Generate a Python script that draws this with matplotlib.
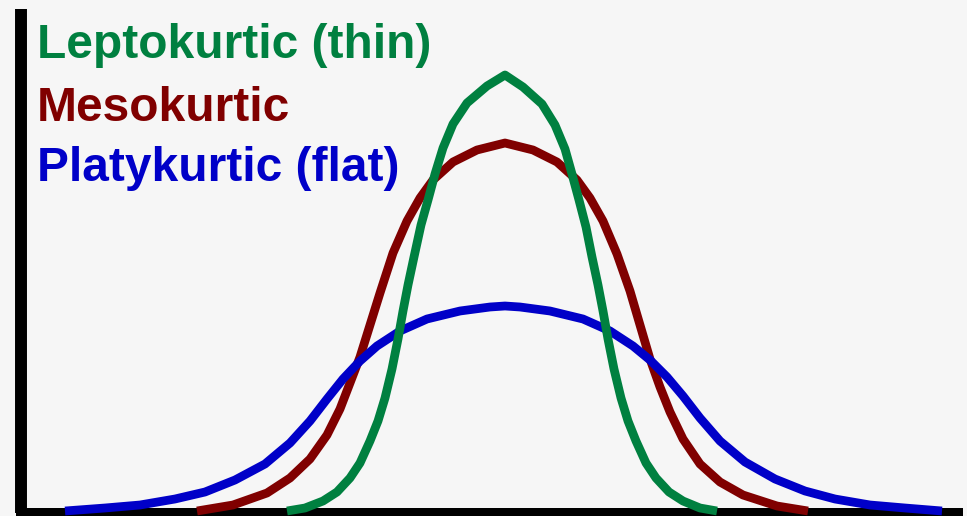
import matplotlib
matplotlib.use("Agg")
import matplotlib.pyplot as plt

# Posiciones horizontales (px respecto al centro) y alturas (px sobre la base)
lepto_x = [-218, -200, -182, -168, -155, -145, -135, -127, -120, -113, -107, -102, -97, -91, -84,
           -77, -70, -62, -52, -38, -18, 0,
           18, 37, 50, 60, 67, 74, 81, 87, 93, 98, 103, 109, 116, 123, 131, 141, 151, 164, 178, 195, 212]
lepto_y = [0, 3, 10, 19, 33, 48, 70, 90, 113, 142, 172, 200, 226, 254, 286,
           311, 337, 363, 387, 408, 425, 436,
           424, 407, 386, 362, 337, 311, 284, 254, 226, 200, 172, 142, 113, 90, 70, 48, 33, 19, 10, 3, 0]

meso_x = [-308, -272, -238, -215, -195, -178, -165, -155, -145, -135, -125, -112, -98, -85, -72, -52, -28, 0,
          28, 52, 72, 85, 98, 112, 125, 135, 145, 155, 165, 178, 195, 215, 238, 272, 303]
meso_y = [0, 6, 18, 33, 52, 76, 102, 128, 154, 186, 218, 258, 290, 313, 331, 349, 361, 368,
          361, 349, 331, 313, 290, 257, 220, 186, 152, 124, 99, 72, 47, 29, 16, 5, 0]

platy_x = [-440, -400, -365, -330, -300, -270, -240, -215, -195, -178, -162, -145, -128, -105, -78, -45, -15, 0,
           15, 45, 78, 105, 128, 145, 162, 178, 195, 215, 240, 270, 300, 330, 365, 400, 437]
platy_y = [0, 3, 6, 12, 19, 31, 47, 68, 90, 112, 132, 150, 165, 180, 192, 200, 204, 205,
           204, 200, 192, 180, 165, 151, 134, 115, 93, 70, 49, 32, 20, 12, 6, 3, 0]

etiquetas = ["Leptokurtic (thin)", "Mesokurtic", "Platykurtic (flat)"]
colores = ["#008040", "#800000", "#0000c8"]

fig = plt.figure(figsize=(9.67, 5.16), dpi=100)
fig.patch.set_facecolor("#f6f6f6")

# Ejes: borde izquierdo en x=21px, base en y=513px
izq, der, arriba, base = 21, 958, 9, 513
ax = fig.add_axes([izq / 967, (516 - base) / 516, (der - izq) / 967, (base - arriba) / 516])
ax.set_facecolor("none")
ax.set_xlim(izq - 505, der - 505)
ax.set_ylim(511 - base, 511 - arriba)

# Orden de dibujo: rojo, azul, verde
lw = 6.3
ax.plot(meso_x, meso_y, color=colores[1], lw=lw, solid_capstyle="butt", clip_on=False, zorder=3)
ax.plot(platy_x, platy_y, color=colores[2], lw=lw, solid_capstyle="butt", clip_on=False, zorder=4)
ax.plot(lepto_x, lepto_y, color=colores[0], lw=lw, solid_capstyle="butt", clip_on=False, zorder=5)

for lado in ["top", "right"]:
    ax.spines[lado].set_visible(False)
ax.spines["left"].set_linewidth(8.6)
ax.spines["left"].set_capstyle("butt")
ax.spines["bottom"].set_linewidth(7.2)
ax.spines["left"].set_zorder(2)
ax.spines["bottom"].set_zorder(2)
ax.set_xticks([])
ax.set_yticks([])

# Textos de la leyenda
baselines = [58, 121, 181]
for texto, color, yb in zip(etiquetas, colores, baselines):
    fig.text(37 / 967, 1 - yb / 516, texto, color=color, fontsize=34.5,
             fontweight="bold", family=["Liberation Sans", "DejaVu Sans"],
             ha="left", va="baseline")

fig.savefig("out.png", dpi=100, facecolor=fig.get_facecolor())
